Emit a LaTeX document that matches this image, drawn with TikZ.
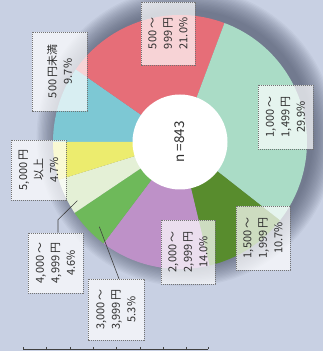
\documentclass[tikz,border=0pt]{standalone}
\usepackage{fontspec}
\setmainfont{Noto Sans CJK JP}
\usetikzlibrary{calc}
\definecolor{bg}{HTML}{C8D0E3}
\definecolor{shadowc}{HTML}{4A5268}
\definecolor{cteal}{HTML}{7DC8D4}
\definecolor{cred}{HTML}{E66E78}
\definecolor{cmint}{HTML}{AADCC6}
\definecolor{cdkgreen}{HTML}{588C2D}
\definecolor{cpurple}{HTML}{BE91C8}
\definecolor{cgreen}{HTML}{6EB95A}
\definecolor{ccream}{HTML}{E4F0D6}
\definecolor{cyellow}{HTML}{ECEC6E}
\definecolor{txt}{HTML}{2E2E2E}
\newcommand\pieslice[3]{\fill[#3] (C) -- ++(#1:127) arc[start angle=#1, end angle=#2, radius=127] -- cycle;}
\newcommand\wav{\,～}
\begin{document}
\begin{tikzpicture}[x=1pt,y=1pt,
  lbl/.style={rotate=90, draw=black!55, dash pattern=on 1.2pt off 0.8pt, line width=0.5pt,
    fill=white, fill opacity=0.7, text opacity=1, text=txt, align=center,
    font=\fontsize{11}{15.5}\selectfont, inner sep=0pt},
  leader/.style={draw=black!75, line width=0.6pt}]
\useasboundingbox (0,0) rectangle (323,351);
\fill[bg] (0,0) rectangle (323,351);
\coordinate (C) at (180,209);
% shadow
\foreach \i in {1,...,18} {
  \fill[shadowc, opacity=0.055] ($(C)+(6,5)$) circle ({126+\i*1.3});
}
% slices
\pieslice{180}{145.1}{cteal}
\pieslice{145.1}{69.5}{cred}
\pieslice{69.5}{-38.1}{cmint}
\pieslice{-38.1}{-76.6}{cdkgreen}
\pieslice{-76.6}{-127.0}{cpurple}
\pieslice{-127.0}{-146.1}{cgreen}
\pieslice{-146.1}{-162.7}{ccream}
\pieslice{-162.7}{-180}{cyellow}
% hole
\node[circle, fill=white, minimum size=95pt, inner sep=0pt] (hole) at (C) {};
\node[rotate=90, text=txt, font=\fontsize{13.5}{16}\selectfont] (n) at (C) {n =843};
% leaders
\coordinate (p6) at (77.3,150.3);
\coordinate (p5) at (99.3,124.3);
% labels
\node[lbl, minimum width=63pt, minimum height=54pt] (b1) at (168,317.5) {500\wav\\999\,円\\21.0\%};
\node[lbl, minimum width=64pt, minimum height=55pt] (b2) at (285.5,234) {1,000\wav\\1,499\,円\\29.9\%};
\node[lbl, minimum width=64pt, minimum height=54pt] (b3) at (263,113) {1,500\wav\\1,999\,円\\10.7\%};
\node[lbl, minimum width=64pt, minimum height=54pt] (b4) at (188,99) {2,000\wav\\2,999\,円\\14.0\%};
\node[lbl, minimum width=61pt, minimum height=56pt] (b5) at (116,41.5) {3,000\wav\\3,999\,円\\5.3\%};
\node[lbl, minimum width=60pt, minimum height=55pt] (b6) at (55.5,88) {4,000\wav\\4,999\,円\\4.6\%};
\node[lbl, minimum width=60pt, minimum height=55pt] (b7) at (38.5,181) {5,000\,円\\以上\\4.7\%};
\node[lbl, minimum width=79pt, minimum height=55pt] (b8) at (59.5,279.5) {500\,円未満\\9.7\%};
\draw[leader] ([xshift=2.5pt]b6.east) -- ++(0,13) -- (p6);
\draw[leader] ([xshift=3pt]b5.east) -- (p5);
% bottom rule
\draw[black!75, line width=0.6pt] (23,1.7) -- (208,1.7);
\foreach \x in {23.3,46.7,70,93.3,116.7,140,163.3,186.7,208}
  \draw[black!75, line width=0.5pt] (\x,1.7) -- (\x,3.6);
\end{tikzpicture}
\end{document}
